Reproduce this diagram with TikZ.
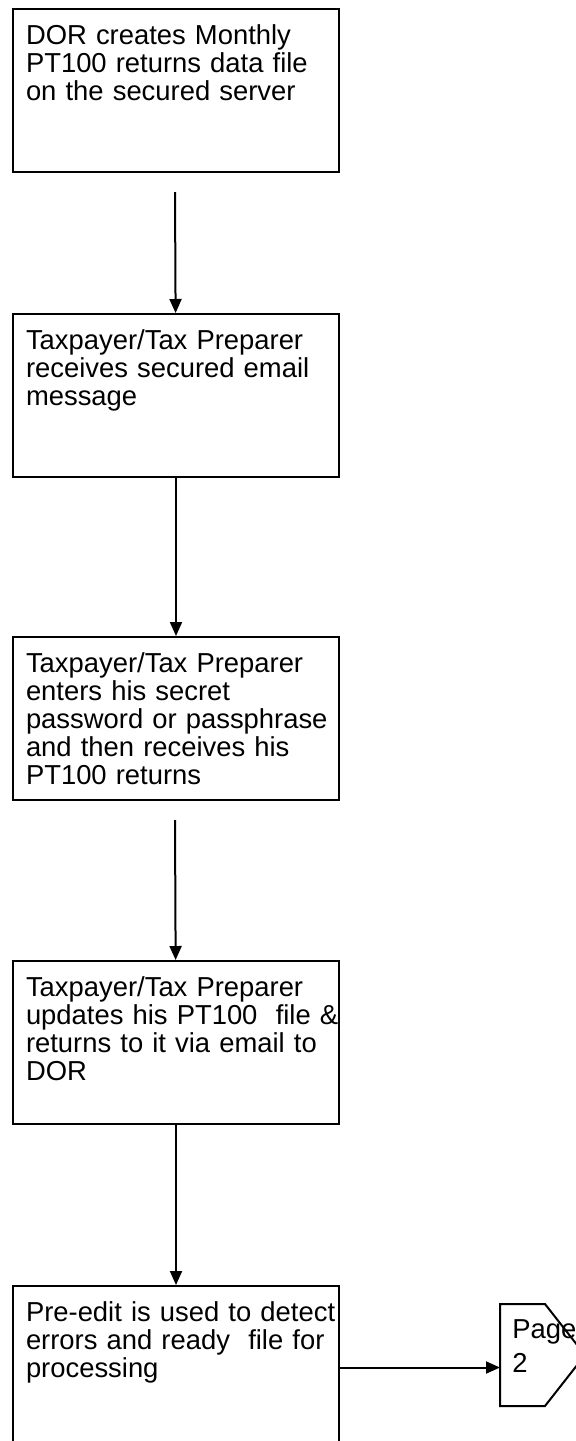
\documentclass[tikz,border=0pt]{standalone}
\usepackage{fontspec}
\setmainfont{Liberation Sans}
\usetikzlibrary{arrows.meta}

\begin{document}
\begin{tikzpicture}[x=0.5pt,y=-0.5pt,
  every node/.style={font=\fontsize{13.7}{14}\selectfont},
  stepbox/.style={draw,line width=1pt,anchor=north west,inner sep=0pt,
    text width=163pt,align=left,text height=17.5pt,text depth=64pt,
    execute at begin node={\leftskip=6.5pt\relax}},
  pagebox/.style={anchor=north west,inner sep=0pt,text width=40pt,align=left,
    font=\fontsize{13.7}{17}\selectfont,text height=17pt,text depth=34pt,
    execute at begin node={\leftskip=6pt\relax}},
  flow/.style={line width=1pt,-{Triangle[length=7pt,width=6pt]}}]
\clip (0,0) rectangle (576,1441);
\node[stepbox] (dor) at (12,8) {DOR creates Monthly\\PT100 returns data file\\on the secured server};
\node[stepbox] (mail) at (12,313) {Taxpayer/Tax Preparer\\receives secured email\\message};
\node[stepbox] (pass) at (12,636) {Taxpayer/Tax Preparer\\enters his secret\\password or passphrase\\and then receives his\\PT100 returns};
\node[stepbox] (upd) at (12,960) {Taxpayer/Tax Preparer\\updates his PT100~ file \&\\returns to it via email to\\DOR};
\node[stepbox] (pre) at (12,1285) {Pre-edit is used to detect\\errors and ready~ file for\\processing};
\node[pagebox] (pg) at (500,1304) {Page\\2};
\draw[line width=1pt] (pg.north west) -- ++(45,0) -- ++(40,51) -- ++(-40,51) -- ++(-45,0) -- cycle;
\coordinate (s1) at (175,192);
\coordinate (s3) at (175,820);
\draw[flow] (s1) -- (mail);
\draw[flow] (mail) -- (pass);
\draw[flow] (s3) -- (upd);
\draw[flow] (upd) -- (pre);
\draw[flow] (pre.east) -- (pre.east -| pg.west);
\end{tikzpicture}
\end{document}
